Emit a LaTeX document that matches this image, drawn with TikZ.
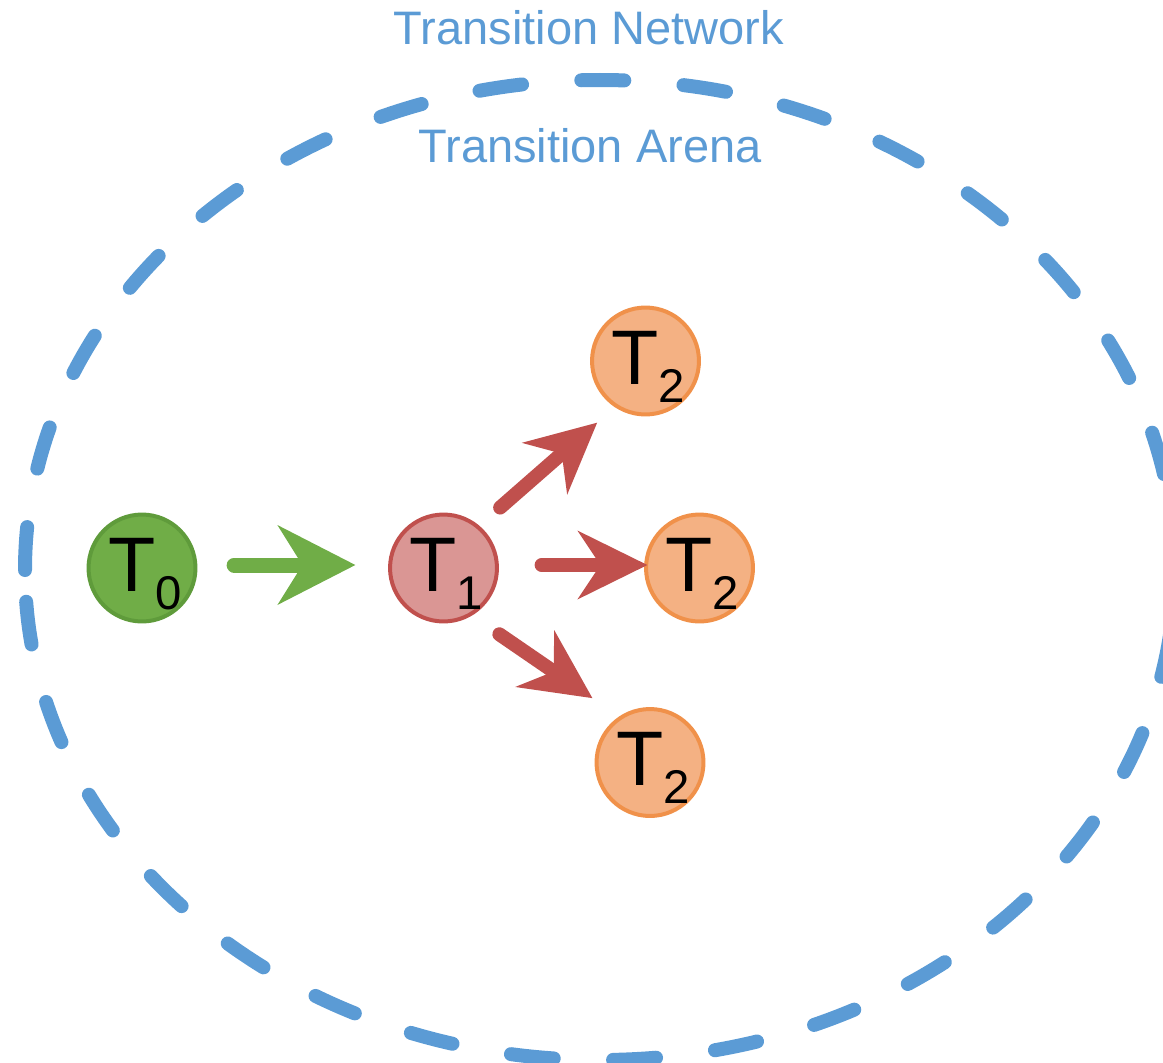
\documentclass[tikz,border=0pt]{standalone}
\usepackage{fontspec}
\setmainfont{Liberation Sans}
\usetikzlibrary{arrows.meta}

\definecolor{netblue}{HTML}{5B9BD5}
\definecolor{startgreen}{HTML}{70AD47}
\definecolor{startgreenline}{HTML}{5F9B3B}
\definecolor{midred}{HTML}{C0504D}
\definecolor{midredfill}{HTML}{DA9694}
\definecolor{endorange}{HTML}{F0914A}
\definecolor{endorangefill}{HTML}{F4B183}

% state label: a capital T with a lowered index
\newcommand{\statelabel}[1]{\makebox[0pt]{\hspace{4.5pt}\fontsize{58pt}{60pt}\selectfont T\raisebox{-13.5pt}{\fontsize{35.5pt}{38pt}\selectfont #1}}}

\tikzset{
  tstate/.style={circle, minimum size=80.2pt, inner sep=0pt, outer sep=0pt,
    line width=3pt, text height=48.5pt, text depth=13.5pt},
  startstate/.style={tstate, draw=startgreenline, fill=startgreen},
  midstate/.style={tstate, draw=midred, fill=midredfill},
  endstate/.style={tstate, draw=endorange, fill=endorangefill},
  greenlink/.style={draw=startgreen, line width=11.25pt, line cap=round,
    -{Stealth[length=58.5pt, width=60pt, inset=18.75pt, line width=0pt]}},
  redlink/.style={draw=midred, line width=10.5pt, line cap=round,
    -{Stealth[length=52.5pt, width=51.75pt, inset=17.25pt, line width=0pt]}},
  arena/.style={draw=netblue, line width=10.5pt, line cap=round,
    dash pattern=on 32.25pt off 44.55pt},
  caption/.style={text=netblue, inner sep=0pt, anchor=base,
    font=\fontsize{35.25pt}{40pt}\selectfont},
}

\begin{document}
\begin{tikzpicture}[x=0.75pt, y=-0.75pt]
  \useasboundingbox (0,0) rectangle (1163,1063);

  % dashed arena boundary
  \draw[arena] (25,570) arc[start angle=180, end angle=540, x radius=575, y radius=490];

  % captions
  \node[caption] (network) at (589,45) {Transition Network};
  \node[caption] (arenatitle) at (590,162) {Transition Arena};

  % states
  \node[startstate] (t0) at (142,568) {\statelabel{0}};
  \node[midstate] (t1) at (443.5,568) {\statelabel{1}};
  \node[endstate] (t2a) at (645.5,361) {\statelabel{2}};
  \node[endstate] (t2b) at (699.5,568) {\statelabel{2}};
  \node[endstate] (t2c) at (650,762.5) {\statelabel{2}};

  % transitions
  \draw[greenlink, shorten <=29pt, shorten >=26pt]
    ([yshift=2.25pt]t0.east) -- ([yshift=2.25pt]t1.west);
  \draw[redlink, shorten <=22.2pt, shorten >=19.2pt] (t1.50.3) -- (t2a.-123.3);
  \draw[redlink, shorten <=33.5pt, shorten >=-1pt]
    ([yshift=2.25pt]t1.east) -- ([yshift=2.25pt]t2b.west);
  \draw[redlink, shorten <=26.5pt, shorten >=25.9pt] (t1.-60) -- (t2c.123.7);
\end{tikzpicture}
\end{document}
